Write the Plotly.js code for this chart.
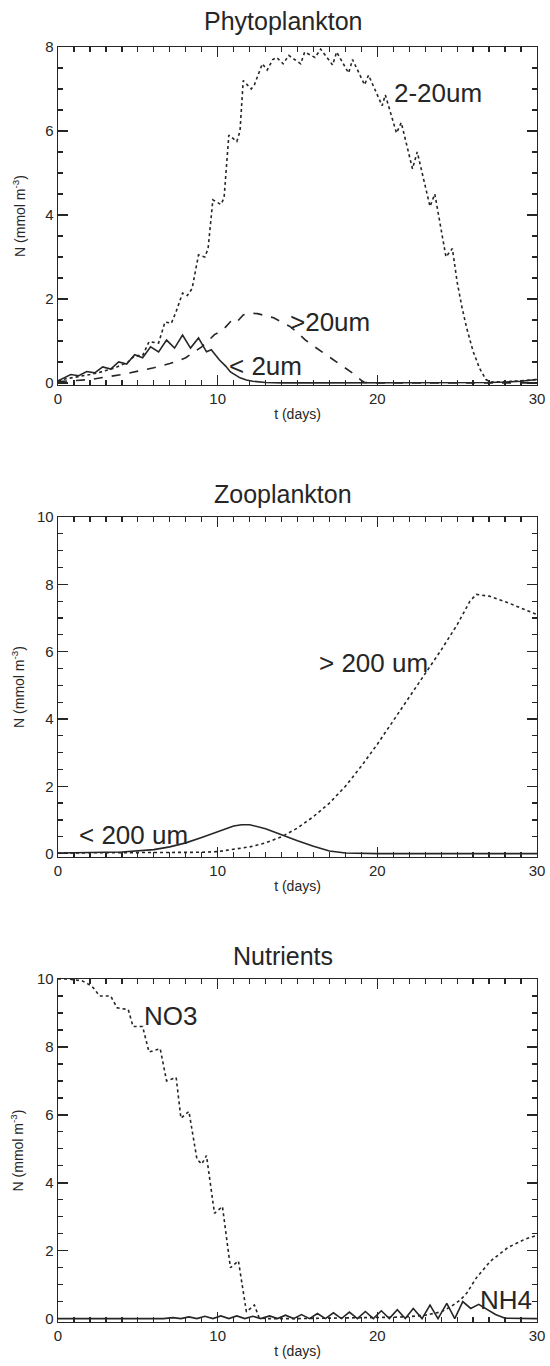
<!DOCTYPE html>
<html>
<head>
<meta charset="utf-8">
<script src="https://cdn.plot.ly/plotly-3.0.1.min.js"></script>
<style>
html,body{margin:0;padding:0;background:#fff;}
#chart{width:550px;height:1366px;}
</style>
</head>
<body>
<div id="chart"></div>
<script>
// ---------------- DATA ----------------
// Phytoplankton
const phyto220_t = [0,0.5,1,1.5,2,2.5,3,3.5,4,4.4,4.8,5.3,5.7,6.3,6.7,7.1,7.4,7.8,8.1,8.4,8.8,9.2,9.4,9.7,10.2,10.4,10.7,11.2,11.4,11.6,12.1,12.3,12.8,13.1,13.45,13.7,14.1,14.45,15.2,15.45,16.1,16.45,17.2,17.45,18.2,18.45,19.2,19.45,20.3,20.5,21.2,21.5,22.2,22.5,23.3,23.6,24.3,24.7,25.0,25.3,25.6,26.0,26.4,26.8,27.1,27.5,28,29,30];
const phyto220_v = [0.05,0.1,0.13,0.16,0.2,0.24,0.3,0.35,0.43,0.5,0.65,0.65,0.98,0.95,1.45,1.42,1.7,2.14,2.08,2.25,3.05,3.0,3.2,4.36,4.25,4.4,5.9,5.75,6.0,7.2,7.0,7.1,7.6,7.45,7.7,7.75,7.6,7.8,7.6,7.88,7.75,7.95,7.57,7.88,7.38,7.7,7.1,7.33,6.6,6.86,5.95,6.2,5.1,5.5,4.2,4.5,3.0,3.2,2.4,1.8,1.3,0.75,0.35,0.08,0.02,0.02,0.03,0.05,0.08];

const phyto2_t = [0,0.3,0.8,1.3,1.8,2.3,2.8,3.3,3.8,4.3,4.8,5.3,5.8,6.3,6.8,7.3,7.8,8.3,8.8,9.3,9.6,10.1,10.5,10.8,11.1,11.4,11.8,12.2,13,14,16,20,24,26,27,28,29,30];
const phyto2_v = [0.05,0.1,0.2,0.17,0.27,0.24,0.38,0.33,0.5,0.45,0.67,0.6,0.86,0.74,1.02,0.83,1.14,0.83,1.07,0.74,0.79,0.55,0.4,0.26,0.18,0.12,0.07,0.04,0.01,0,0,0,0,0,0.01,0.02,0.04,0.08];

const phyto20_t = [0,1,2,3,4,5,6,7,7.5,8,8.5,9,9.4,9.8,10.3,10.9,11.2,11.6,12,12.5,13,13.5,14,14.5,15,15.5,16,16.5,17,17.5,18,18.5,19,19.2,20,25,30];
const phyto20_v = [0.03,0.05,0.08,0.14,0.2,0.28,0.36,0.46,0.52,0.6,0.72,0.86,1.0,1.15,1.25,1.5,1.45,1.62,1.66,1.65,1.6,1.55,1.45,1.35,1.2,1.02,0.88,0.75,0.62,0.5,0.36,0.22,0.06,0.01,0,0,0];

// Zooplankton
const zooSmall_t = [0,1,2,3,4,5,6,7,8,9,10,11,11.5,12,13,14,15,16,17,18,19,20,25,30];
const zooSmall_v = [0.02,0.02,0.03,0.04,0.05,0.08,0.12,0.2,0.32,0.48,0.66,0.82,0.86,0.86,0.74,0.55,0.38,0.22,0.08,0.02,0,0,0,0];

const zooLarge_t = [0,2,4,6,8,9,10,11,12,13,14,15,16,17,18,19,20,21,22,23,24,25,25.8,26.2,27,28.2,29,30];
const zooLarge_v = [0.02,0.02,0.02,0.02,0.03,0.04,0.06,0.12,0.2,0.32,0.5,0.76,1.1,1.5,2.0,2.6,3.25,3.95,4.65,5.35,6.05,6.8,7.5,7.7,7.65,7.45,7.3,7.1];

// Nutrients
const no3_t = [0,0.6,1.5,1.9,2.2,2.6,3.3,3.7,4.4,4.7,5.3,5.7,6.4,6.8,7.4,7.7,8.2,8.7,9.0,9.3,9.8,10.3,10.8,11.3,11.8,12.3,12.6,13,15,18,20,21,22,23,24,24.6,25.2,25.6,26.2,27.1,28.2,29.3,30];
const no3_v = [10,10,9.95,9.85,9.75,9.5,9.5,9.15,9.1,8.6,8.6,7.85,7.95,7.0,7.1,5.9,6.1,4.7,4.55,4.8,3.1,3.3,1.5,1.7,0.2,0.4,0.02,0,0,0.01,0.02,0.04,0.06,0.1,0.2,0.35,0.55,0.75,1.2,1.7,2.1,2.35,2.45];

const nh4_t = [0,6.6,7.2,7.7,8.2,8.7,9.2,9.7,10.2,10.7,11.2,11.7,12.2,12.7,13.25,13.75,14.25,14.75,15.25,15.75,16.25,16.75,17.25,17.75,18.25,18.75,19.25,19.75,20.25,20.75,21.25,21.75,22.25,22.8,23.3,23.8,24.35,24.85,25.35,25.85,26.35,26.9,27.4,28,29,30];
const nh4_v = [0,0,0.03,0,0.05,0,0.07,0,0.08,0,0.08,0,0.07,0,0.08,0,0.1,0,0.12,0,0.15,0,0.17,0,0.19,0,0.21,0,0.23,0,0.26,0,0.3,0,0.4,0,0.45,0,0.5,0.3,0.42,0.25,0.12,0.01,0,0];

const xTickVals = [0,10,20,30];
const panelTitles = ["Phytoplankton","Zooplankton","Nutrients"];

// ---------------- STYLE ----------------
const ink = "#262626";
const W = 550, H = 1366;
const FONT = "Liberation Sans, Arial, Helvetica, sans-serif";

function line(x, y, dash, xa, ya) {
  return {x: x, y: y, type: "scatter", mode: "lines", xaxis: xa, yaxis: ya,
          line: {color: ink, width: 1.6, dash: dash}, hoverinfo: "skip", showlegend: false};
}

const traces = [
  line(phyto220_t, phyto220_v, "dot", "x", "y"),
  line(phyto20_t, phyto20_v, "dash", "x", "y"),
  line(phyto2_t, phyto2_v, "solid", "x", "y"),
  line(zooLarge_t, zooLarge_v, "dot", "x2", "y2"),
  line(zooSmall_t, zooSmall_v, "solid", "x2", "y2"),
  line(no3_t, no3_v, "dot", "x3", "y3"),
  line(nh4_t, nh4_v, "solid", "x3", "y3")
];

const px = v => v / W;
const py = v => 1 - v / H;

function xax(anchor) {
  return {
    anchor: anchor, domain: [px(58), px(537)], range: [0, 30],
    tickvals: xTickVals, ticks: "inside", ticklen: 10, tickwidth: 1.5, tickcolor: ink,
    minor: {dtick: 1, ticks: "inside", ticklen: 5, tickcolor: ink, tickwidth: 1.3},
    mirror: "ticks", showline: true, linecolor: ink, linewidth: 1.3,
    showgrid: false, zeroline: false,
    tickfont: {family: FONT, size: 15, color: ink},
    title: {text: "t (days)", font: {family: FONT, size: 14, color: ink}, standoff: 3}
  };
}
function yax(anchor, top, bottom, lo, hi, standoff) {
  return {
    anchor: anchor, domain: [py(bottom), py(top)], range: [lo, hi],
    dtick: 2, tick0: 0, ticks: "inside", ticklen: 10, tickwidth: 1.5, tickcolor: ink,
    minor: {dtick: 0.5, ticks: "inside", ticklen: 5, tickcolor: ink, tickwidth: 1.3},
    mirror: "ticks", showline: true, linecolor: ink, linewidth: 1.3,
    showgrid: false, zeroline: false,
    tickfont: {family: FONT, size: 15, color: ink},
    title: {text: "N (mmol m<sup>-3</sup>)", font: {family: FONT, size: 14, color: ink}, standoff: standoff}
  };
}

function lab(text, xref, yref, x, y) {
  return {text: text, xref: xref, yref: yref, x: x, y: y, xanchor: "left", yanchor: "middle",
          showarrow: false, font: {family: FONT, size: 26, color: ink}};
}
function ttl(text, yPix) {
  return {text: text, xref: "paper", yref: "paper", x: px(283), y: py(yPix), xanchor: "center", yanchor: "middle",
          showarrow: false, font: {family: FONT, size: 25, color: ink}};
}

const layout = {
  width: W, height: H, margin: {l: 0, r: 0, t: 0, b: 0},
  paper_bgcolor: "#fff", plot_bgcolor: "#fff", showlegend: false,
  xaxis: xax("y"), yaxis: yax("x", 47, 385, -0.05, 8, 16),
  xaxis2: xax("y2"), yaxis2: yax("x2", 517, 857, -0.1, 10, 9),
  xaxis3: xax("y3"), yaxis3: yax("x3", 979, 1322, -0.1, 10, 10),
  annotations: [
    ttl(panelTitles[0], 21), ttl(panelTitles[1], 494), ttl(panelTitles[2], 956),
    lab("2-20um", "x", "y", 20.9, 6.9),
    lab(">20um", "x", "y", 14.4, 1.45),
    lab("< 2um", "x", "y", 10.6, 0.4),
    lab("> 200 um", "x2", "y2", 16.25, 5.67),
    lab("< 200 um", "x2", "y2", 1.2, 0.55),
    lab("NO3", "x3", "y3", 5.25, 8.9),
    lab("NH4", "x3", "y3", 26.3, 0.55)
  ]
};

Plotly.newPlot("chart", traces, layout, {staticPlot: true, displayModeBar: false});
</script>
</body>
</html>
